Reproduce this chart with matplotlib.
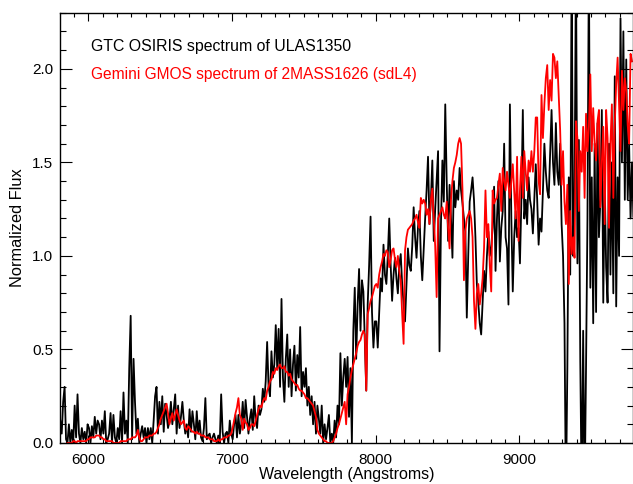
import numpy as np
import matplotlib
matplotlib.use("Agg")
import matplotlib.pyplot as plt
from matplotlib.ticker import MultipleLocator

plt.rcParams['font.family'] = ['Liberation Sans', 'DejaVu Sans']

# GTC OSIRIS spectrum of ULAS1350 (black), 10 A sampling starting at 5805 A
osiris_start = 5805.0
osiris_step = 10.0
osiris_flux = [
    0.12, 0.05, 0.22, 0.30, 0.02, 0.00, 0.10, 0.00, 0.07, 0.00,
    0.20, 0.03, 0.26, 0.05, 0.00, 0.08, 0.02, 0.06, 0.00, 0.10,
    0.08, 0.00, 0.09, 0.03, 0.14, 0.05, 0.12, 0.10, 0.02, 0.12,
    0.05, 0.17, 0.00, 0.02, 0.05, 0.16, 0.00, 0.15, 0.03, 0.00,
    0.08, 0.02, 0.17, 0.00, 0.27, 0.05, 0.12, 0.00, 0.40, 0.68,
    0.02, 0.45, 0.22, 0.05, 0.13, 0.00, 0.05, 0.09, 0.03, 0.08,
    0.00, 0.08, 0.02, 0.08, 0.00, 0.12, 0.25, 0.30, 0.05, 0.22,
    0.10, 0.25, 0.06, 0.21, 0.15, 0.08, 0.12, 0.22, 0.10, 0.18,
    0.26, 0.05, 0.20, 0.08, 0.14, 0.22, 0.12, 0.05, 0.10, 0.03,
    0.18, 0.06, 0.17, 0.10, 0.02, 0.17, 0.05, 0.12, 0.03, 0.01,
    0.08, 0.24, 0.02, 0.04, 0.05, 0.00, 0.03, 0.05, 0.02, 0.00,
    0.04, 0.00, 0.26, 0.06, 0.00, 0.05, 0.06, 0.00, 0.12, 0.05,
    0.02, 0.10, 0.15, 0.03, 0.15, 0.05, 0.10, 0.22, 0.08, 0.23,
    0.14, 0.05, 0.13, 0.18, 0.07, 0.25, 0.12, 0.08, 0.20, 0.15,
    0.18, 0.29, 0.22, 0.33, 0.54, 0.30, 0.25, 0.49, 0.35, 0.42,
    0.63, 0.40, 0.61, 0.30, 0.77, 0.35, 0.22, 0.45, 0.58, 0.30,
    0.50, 0.25, 0.42, 0.52, 0.28, 0.47, 0.35, 0.62, 0.25, 0.38,
    0.30, 0.40, 0.20, 0.30, 0.15, 0.25, 0.10, 0.22, 0.05, 0.20,
    0.13, 0.05, 0.20, 0.00, 0.10, 0.02, 0.08, 0.15, 0.00, 0.05,
    0.00, 0.12, 0.03, 0.20, 0.10, 0.48, 0.20, 0.35, 0.45, 0.30,
    0.46, 0.14, 0.40, 0.00, 0.60, 0.83, 0.45, 0.74, 0.93, 0.60,
    0.87, 0.81, 0.55, 0.28, 0.74, 0.95, 1.21, 0.70, 0.51, 0.65,
    0.65, 0.51, 0.70, 0.88, 0.81, 1.06, 0.90, 0.85, 1.00, 1.20,
    0.95, 0.76, 0.90, 0.99, 0.88, 0.80, 0.95, 1.01, 0.85, 0.74,
    0.65, 0.85, 1.04, 0.95, 0.92, 1.05, 1.26, 1.10, 0.99, 1.15,
    1.24, 1.00, 0.87, 1.04, 1.20, 1.35, 1.53, 1.17, 1.30, 1.51,
    1.08, 1.25, 1.40, 1.56, 0.49, 1.17, 1.51, 1.29, 1.81, 1.40,
    1.08, 1.38, 1.20, 0.99, 1.40, 1.26, 1.35, 1.30, 1.47, 1.35,
    1.28, 1.20, 1.13, 0.67, 1.00, 1.29, 1.35, 1.42, 1.30, 1.10,
    0.85, 0.75, 0.64, 0.58, 0.75, 0.92, 0.81, 1.00, 1.13, 1.00,
    1.05, 1.15, 1.37, 0.92, 1.20, 1.40, 0.97, 1.15, 1.24, 1.60,
    1.10, 1.04, 0.74, 1.81, 1.20, 0.81, 1.10, 1.24, 1.10, 1.15,
    0.96, 1.30, 1.78, 1.20, 1.30, 1.17, 1.42, 1.30, 1.25, 1.12,
    1.30, 1.49, 1.30, 1.06, 1.20, 1.13, 1.35, 1.60, 1.45, 1.35,
    1.31, 1.55, 1.78, 1.50, 1.38, 1.71, 1.45, 1.38, 1.60, 1.17,
    1.00, 0.64, -0.30, 0.40, 1.42, 0.90, 2.60, 1.00, 1.30, 2.60,
    0.96, 1.62, 0.44, -0.30, 0.60, -0.30, 0.40, 1.20, 2.60, 0.83,
    1.42, 0.64, 1.60, 0.70, 1.71, 1.10, 1.30, 1.78, 0.75, 1.40,
    0.94, 0.75, 1.60, 0.90, 1.50, 0.80, 1.96, 0.73, 1.42, 1.00,
    2.27, 1.50, 2.20, 1.30, 2.05, 1.30, 1.60, 1.20, 1.50, 1.21,
]

# Gemini GMOS spectrum of 2MASS1626 (red), 10 A sampling starting at 5855 A
gmos_start = 5855.0
gmos_step = 10.0
gmos_flux = [
    0.00, 0.00, 0.00, 0.00, 0.01, 0.01, 0.00, 0.01, 0.01, 0.01,
    0.01, 0.01, 0.01, 0.01, 0.02, 0.02, 0.03, 0.03, 0.03, 0.03,
    0.04, 0.04, 0.04, 0.03, 0.03, 0.02, 0.02, 0.01, 0.01, 0.01,
    0.01, 0.01, 0.00, 0.00, 0.00, 0.00, 0.00, 0.01, 0.01, 0.01,
    0.01, 0.01, 0.02, 0.02, 0.02, 0.03, 0.03, 0.03, 0.04, 0.07,
    0.03, 0.01, 0.01, 0.02, 0.03, 0.03, 0.03, 0.04, 0.04, 0.04,
    0.05, 0.05, 0.06, 0.08, 0.10, 0.13, 0.15, 0.17, 0.19, 0.21,
    0.16, 0.10, 0.13, 0.16, 0.12, 0.15, 0.18, 0.15, 0.12, 0.10,
    0.11, 0.12, 0.08, 0.07, 0.09, 0.08, 0.07, 0.06, 0.06, 0.05,
    0.06, 0.05, 0.05, 0.04, 0.04, 0.04, 0.03, 0.03, 0.03, 0.02,
    0.02, 0.02, 0.01, 0.01, 0.01, 0.02, 0.01, 0.02, 0.02, 0.03,
    0.03, 0.03, 0.04, 0.04, 0.05, 0.08, 0.12, 0.16, 0.19, 0.24,
    0.15, 0.13, 0.07, 0.13, 0.11, 0.10, 0.07, 0.08, 0.10, 0.10,
    0.09, 0.12, 0.15, 0.18, 0.20, 0.19, 0.22, 0.24, 0.23, 0.28,
    0.30, 0.33, 0.34, 0.38, 0.37, 0.40, 0.39, 0.41, 0.42, 0.40,
    0.40, 0.41, 0.38, 0.38, 0.36, 0.37, 0.34, 0.33, 0.32, 0.31,
    0.31, 0.29, 0.28, 0.28, 0.27, 0.26, 0.24, 0.24, 0.23, 0.22,
    0.21, 0.20, 0.17, 0.14, 0.07, 0.05, 0.04, 0.03, 0.02, 0.01,
    0.01, 0.00, 0.00, 0.00, 0.00, 0.01, 0.03, 0.05, 0.08, 0.10,
    0.13, 0.16, 0.19, 0.22, 0.10, 0.26, 0.30, 0.35, 0.39, 0.42,
    0.45, 0.48, 0.52, 0.54, 0.55, 0.58, 0.60, 0.58, 0.28, 0.69,
    0.72, 0.76, 0.78, 0.81, 0.84, 0.85, 0.83, 0.90, 0.94, 0.97,
    1.01, 1.00, 1.03, 1.02, 0.94, 0.98, 1.03, 1.04, 0.98, 0.94,
    1.00, 0.92, 0.87, 0.69, 0.53, 1.03, 1.10, 1.14, 1.15, 1.16,
    1.17, 1.19, 1.20, 1.22, 1.18, 1.15, 1.31, 1.28, 1.30, 1.28,
    1.22, 1.25, 1.17, 1.30, 1.36, 1.20, 1.05, 0.78, 1.20, 1.22,
    1.24, 1.26, 1.22, 1.20, 1.29, 1.15, 1.04, 1.30, 1.40, 1.47,
    1.50, 1.54, 1.60, 1.63, 1.60, 1.35, 0.87, 1.13, 1.20, 1.22,
    1.24, 1.20, 1.10, 0.76, 0.61, 0.80, 0.85, 0.74, 0.80, 0.88,
    1.04, 1.35, 1.10, 1.17, 0.95, 0.81, 1.35, 1.28, 1.30, 1.31,
    1.38, 1.44, 1.24, 1.47, 1.40, 1.35, 1.45, 1.38, 1.31, 1.40,
    1.49, 1.35, 1.20, 1.53, 1.08, 1.35, 1.53, 1.31, 1.56, 1.45,
    1.35, 1.51, 1.45, 1.56, 1.45, 1.56, 1.74, 1.74, 1.40, 1.33,
    1.86, 1.63, 1.81, 1.95, 2.02, 1.78, 1.94, 1.83, 2.08, 2.06,
    1.95, 2.04, 1.86, 1.67, 1.38, 1.56, 1.29, 1.17, 1.38, 0.85,
    1.24, 1.01, 1.10, 0.99, 1.72, 1.63, 1.24, 1.56, 1.45, 1.69,
    1.31, 1.76, 1.56, 1.69, 1.97, 1.56, 1.79, 1.60, 1.51, 1.72,
    1.78, 1.26, 1.50, 1.69, 1.17, 1.78, 1.63, 1.15, 1.60, 1.81,
    1.31, 1.70, 1.92, 2.06, 1.81, 1.56, 1.99, 1.78, 1.95, 1.88,
    1.70, 1.60, 2.08, 2.04,
]

osiris_wave = osiris_start + osiris_step * np.arange(len(osiris_flux))
gmos_wave = gmos_start + gmos_step * np.arange(len(gmos_flux))

fig = plt.figure(figsize=(6.33, 4.84), dpi=100)
ax = fig.add_axes([60 / 633, 41 / 484, 573 / 633, 430.3 / 484])

ax.plot(osiris_wave, osiris_flux, color='black', lw=1.3)
ax.plot(gmos_wave, gmos_flux, color='red', lw=1.3)

ax.set_xlim(5803, 9792)
ax.set_ylim(0, 2.3)

ax.xaxis.set_major_locator(MultipleLocator(1000))
ax.xaxis.set_minor_locator(MultipleLocator(100))
ax.yaxis.set_major_locator(MultipleLocator(0.5))
ax.yaxis.set_minor_locator(MultipleLocator(0.1))
ax.yaxis.set_major_formatter(plt.FormatStrFormatter('%.1f'))

ax.tick_params(axis='both', which='both', direction='in', top=True, right=True,
               width=0.8, labelsize=11)
ax.tick_params(axis='x', which='major', length=5.8, pad=7)
ax.tick_params(axis='x', which='minor', length=2.9)
ax.tick_params(axis='y', which='major', length=8.6, pad=5)
ax.tick_params(axis='y', which='minor', length=4.3)
for sp in ax.spines.values():
    sp.set_linewidth(1.0)

ax.set_xlabel('Wavelength (Angstroms)', fontsize=11.5, labelpad=0)
ax.set_ylabel('Normalized Flux', fontsize=11.8, labelpad=5)

ax.text(0.054, 0.9116, 'GTC OSIRIS spectrum of ULAS1350', color='black',
        fontsize=11.4, transform=ax.transAxes, va='baseline')
ax.text(0.054, 0.8465, 'Gemini GMOS spectrum of 2MASS1626 (sdL4)', color='red',
        fontsize=11.2, transform=ax.transAxes, va='baseline')

fig.savefig('out.png', dpi=100)
